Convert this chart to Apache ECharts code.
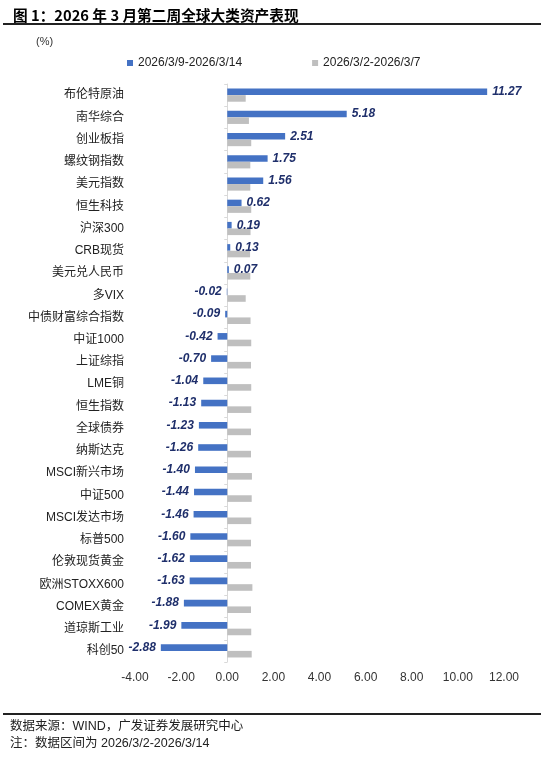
<!DOCTYPE html>
<html>
<head>
<meta charset="utf-8">
<script src="https://cdn.jsdelivr.net/npm/echarts@6/dist/echarts.min.js"></script>
<style>
  html, body { margin: 0; padding: 0; background: #fff; }
  #chart { width: 550px; height: 761px; }
</style>
</head>
<body>
<div id="chart"></div>
<script>
var categories = ['布伦特原油','南华综合','创业板指','螺纹钢指数','美元指数','恒生科技','沪深300','CRB现货','美元兑人民币','多VIX',
    '中债财富综合指数','中证1000','上证综指','LME铜','恒生指数','全球债券','纳斯达克','MSCI新兴市场','中证500','MSCI发达市场',
    '标普500','伦敦现货黄金','欧洲STOXX600','COMEX黄金','道琼斯工业','科创50'];
var thisWeek = [11.27, 5.18, 2.51, 1.75, 1.56, 0.62, 0.19, 0.13, 0.07, -0.02,
    -0.09, -0.42, -0.70, -1.04, -1.13, -1.23, -1.26, -1.40, -1.44, -1.46,
    -1.60, -1.62, -1.63, -1.88, -1.99, -2.88];
var lastWeek = [0.80, 0.94, 1.04, 1.00, 1.00, 1.04, 1.01, 0.99, 1.00, 0.80,
    1.01, 1.04, 1.03, 1.04, 1.04, 1.03, 1.03, 1.07, 1.06, 1.04,
    1.03, 1.03, 1.09, 1.03, 1.04, 1.06];
var seriesNames = ['2026/3/9-2026/3/14', '2026/3/2-2026/3/7'];
var xTicks = { min: -4, max: 12, interval: 2 };

var latin = '"Liberation Sans", Arial, "Noto Sans CJK SC", sans-serif';

var chart = echarts.init(document.getElementById('chart'));

var blueData = thisWeek.map(function (v) {
    return {
        value: v,
        label: { position: v < 0 ? 'left' : 'right' }
    };
});

var option = {
    animation: false,
    textStyle: { fontFamily: latin },
    title: {
        text: '图 1：2026 年 3 月第二周全球大类资产表现',
        left: 8,
        top: 3,
        textStyle: { fontSize: 14.7, fontWeight: 'bold', color: '#000', fontFamily: '"Noto Sans CJK SC", sans-serif' }
    },
    graphic: [
        { type: 'rect', shape: { x: 3, y: 23, width: 538, height: 2 }, style: { fill: '#222' } },
        { type: 'text', left: 36, top: 36, style: { text: '(%)', fontSize: 11, fill: '#333', fontFamily: latin } },
        { type: 'rect', shape: { x: 3, y: 713, width: 538, height: 2 }, style: { fill: '#222' } },
        { type: 'text', left: 10, top: 720, style: { text: '数据来源：WIND，广发证券发展研究中心', fontSize: 12.5, fill: '#222', fontFamily: latin } },
        { type: 'text', left: 10, top: 737, style: { text: '注：数据区间为 2026/3/2-2026/3/14', fontSize: 12.5, fill: '#222', fontFamily: latin } }
    ],
    legend: {
        data: seriesNames,
        left: 122,
        top: 52,
        itemWidth: 6,
        itemHeight: 6,
        itemGap: 70,
        icon: 'rect',
        textStyle: { fontSize: 12, color: '#222', fontFamily: latin }
    },
    grid: {
        left: 135,
        right: 46,
        top: 84,
        bottom: 99,
        containLabel: false,
        outerBoundsMode: 'none'
    },
    xAxis: {
        type: 'value',
        min: xTicks.min,
        max: xTicks.max,
        interval: xTicks.interval,
        axisLine: { show: false },
        axisTick: { show: false },
        splitLine: { show: false },
        axisLabel: {
            margin: 10,
            fontSize: 12,
            color: '#333',
            formatter: function (v) { return v.toFixed(2); }
        }
    },
    yAxis: {
        type: 'category',
        data: categories,
        inverse: true,
        axisLine: { onZero: true, lineStyle: { color: '#d9d9d9' } },
        axisTick: { show: true, length: 3, lineStyle: { color: '#d9d9d9' } },
        axisLabel: {
            margin: 11,
            fontSize: 12,
            color: '#222',
            fontFamily: latin
        }
    },
    series: [
        {
            name: seriesNames[0],
            type: 'bar',
            data: blueData,
            barWidth: 6.6,
            barGap: '0%',
            itemStyle: { color: '#4472c4' },
            label: {
                show: true,
                distance: 5,
                fontSize: 12,
                fontWeight: 'bold',
                fontStyle: 'italic',
                color: '#1f2f6b',
                fontFamily: latin,
                formatter: function (p) { return p.value.toFixed(2); }
            }
        },
        {
            name: seriesNames[1],
            type: 'bar',
            data: lastWeek,
            barWidth: 6.6,
            barGap: '0%',
            itemStyle: { color: '#bfbfbf' }
        }
    ]
};

chart.setOption(option);
</script>
</body>
</html>
